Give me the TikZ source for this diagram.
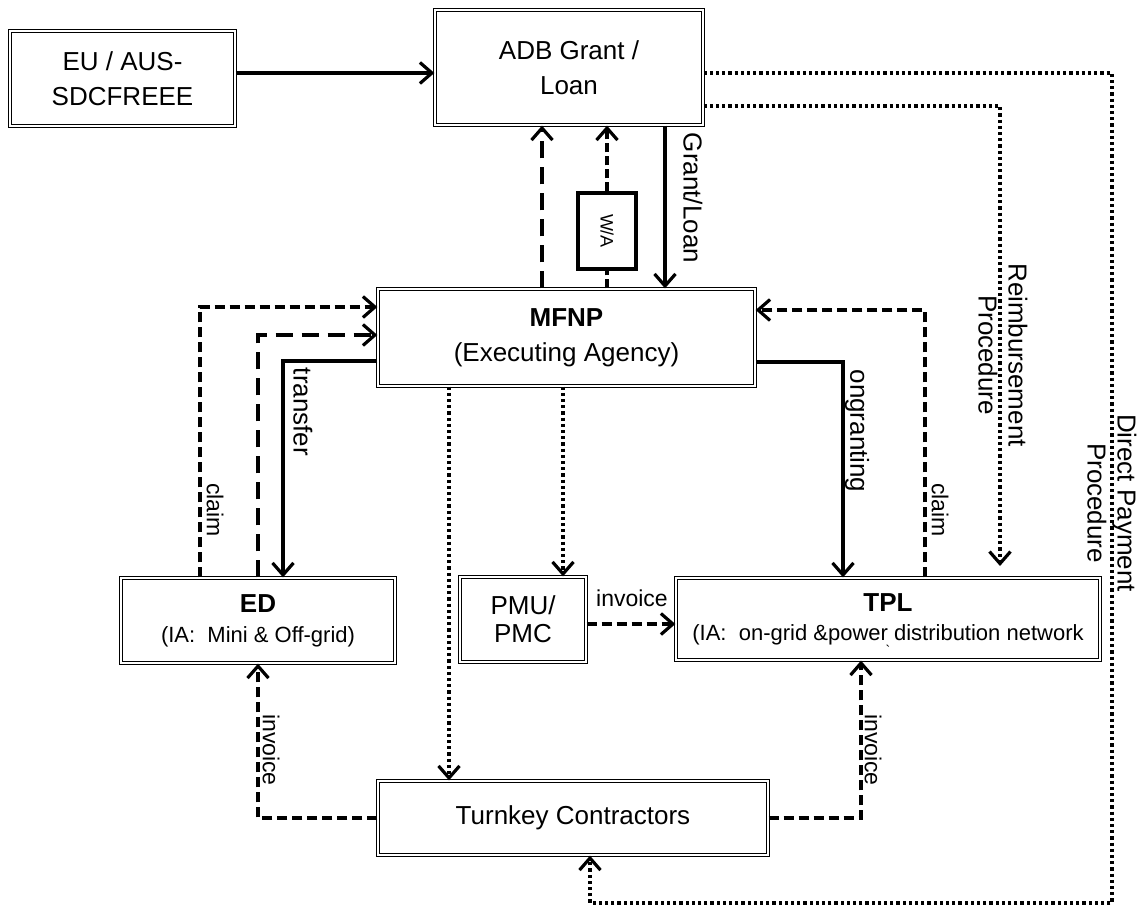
\documentclass[tikz,border=0pt]{standalone}
\usepackage{graphicx}
\usepackage{fontspec}
\setmainfont{Liberation Sans}
\usetikzlibrary{arrows.meta}

\begin{document}
\begin{tikzpicture}[x=1pt,y=-1pt,
        box/.style={draw,double,double distance=2pt,line width=1.3pt,inner sep=0pt,align=center,font=\fontsize{26}{35}\selectfont},
        lbl/.style={inner sep=0pt,align=center,font=\fontsize{26}{30}\selectfont},
        small/.style={inner sep=0pt,font=\fontsize{23}{27}\selectfont},
        flow/.style={line width=3.2pt,-{Straight Barb[length=12pt,width=21pt]}},
        plain/.style={line width=3.2pt},
        shortdash/.style={dash pattern=on 10pt off 5pt},
        longdash/.style={dash pattern=on 17pt off 9pt},
        wadash/.style={dash pattern=on 9pt off 4pt},
        dots/.style={dash pattern=on 3.2pt off 3pt}]
                \useasboundingbox (0,0) rectangle (1148,909);

                \node[box,minimum width=225pt,minimum height=95pt] (eu) at (122.5,78.5) {EU / AUS-\\SDCFREEE};
                \node[box,minimum width=268pt,minimum height=115pt] (adb) at (569,67.5) {ADB Grant /\\Loan};
                \node[box,minimum width=377pt,minimum height=97pt] (mfnp) at (566.5,337.5) {\textbf{MFNP}\\(Executing Agency)};
                \node[draw,line width=3.2pt,minimum width=58pt,minimum height=76pt,inner sep=0pt,font=\fontsize{18}{20}\selectfont] (wa) at (607,231) {\rotatebox{-90}{W/A}};

                \node[box,font=\fontsize{26}{30}\selectfont,minimum width=274pt,minimum height=85pt] (ed) at (258,620.5) {\textbf{ED}\\{\fontsize{22}{26}\selectfont (IA:~ Mini \& Off-grid)}};
                \node[box,font=\fontsize{26}{28}\selectfont,minimum width=126pt,minimum height=85pt] (pmu) at (523,619.5) {PMU/\\PMC};
                \node[box,font=\fontsize{26}{29}\selectfont,minimum width=424pt,minimum height=82pt] (tpl) at (888,619) {\textbf{TPL}\\{\fontsize{22}{26}\selectfont (IA:~ on-grid \&power distribution network}};
                \node[inner sep=0pt,font=\fontsize{14}{14}\selectfont] (tick) at (888,650) {\textasciigrave};
                \node[box,minimum width=390pt,minimum height=74pt] (turnkey) at (573,818) {Turnkey Contractors};

                \coordinate (dpcorner) at (1112,903);
                \coordinate (reimbend) at (1000,566);

                \draw[flow] (eu.east |- 0,73) -- (adb.west |- 0,73);
                \draw[flow] (adb.south -| 665,0) -- (mfnp.north -| 665,0);
                \draw[flow,longdash] (mfnp.north -| 542,0) -- (adb.south -| 542,0);
                \draw[plain,wadash] (mfnp.north -| wa) -- (wa.south);
                \draw[flow,wadash] (wa.north) -- (adb.south -| wa);

                \draw[flow,dots] (adb.east |- 0,73) -| (dpcorner) -| ([xshift=17pt]turnkey.south);
                \draw[flow,dots] (adb.east |- 0,106) -| (reimbend);
                \draw[flow,dots] (mfnp.south -| 449,0) -- (turnkey.north -| 449,0);
                \draw[flow,dots] (mfnp.south -| 563,0) -- (pmu.north -| 563,0);

                \draw[flow,shortdash] (pmu.east |- 0,624) -- (tpl.west |- 0,624);
                \draw[flow] (mfnp.east |- 0,362) -| (tpl.north -| 843,0);
                \draw[flow,shortdash] (tpl.north -| 925,0) |- (mfnp.east |- 0,310);
                \draw[flow,shortdash] (ed.north -| 200,0) |- (mfnp.west |- 0,307);
                \draw[flow,longdash] (ed.north) |- (mfnp.west |- 0,335);
                \draw[flow] (mfnp.west |- 0,361) -| (ed.north -| 283,0);
                \draw[flow,shortdash] (turnkey.west) -| (ed.south);
                \draw[flow,shortdash] (turnkey.east) -| (tpl.south -| 861,0);

                \node[lbl,rotate=-90] (grantlbl) at (693,198) {Grant/Loan};
                \node[lbl,rotate=-90] (transferlbl) at (303,412) {transfer};
                \node[small,rotate=-90] (claimleft) at (215,510) {claim};
                \node[lbl,rotate=-90] (ongrantlbl) at (857,431) {ongranting};
                \node[small,rotate=-90] (claimright) at (940,510) {claim};
                \node[lbl,rotate=-90] (reimblbl) at (1003,355) {Reimbursement\\Procedure};
                \node[lbl,rotate=-90] (directlbl) at (1112,503) {Direct Payment\\Procedure};
                \node[small] (invoicepmu) at (632,598) {invoice};
                \node[small,rotate=-90] (invoiceleft) at (271,750) {invoice};
                \node[small,rotate=-90] (invoiceright) at (873,750) {invoice};
            \end{tikzpicture}
\end{document}
